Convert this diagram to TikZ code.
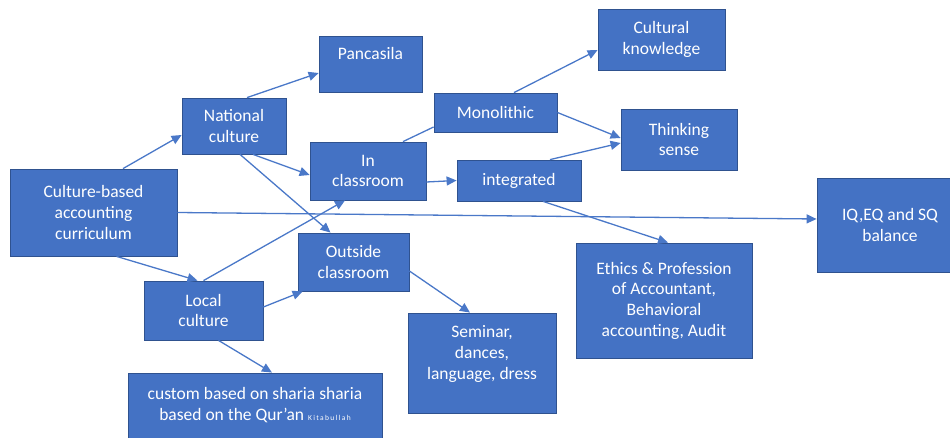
\documentclass[tikz,border=0pt]{standalone}
\usepackage{fontspec}
\setmainfont{Carlito}
\usetikzlibrary{arrows.meta}
\definecolor{boxblue}{HTML}{4472C4}
\definecolor{edgeblue}{HTML}{2F528F}
\definecolor{linkblue}{HTML}{4A78C8}

\begin{document}
\begin{tikzpicture}[x=1pt, y=-1pt,
  box/.style={draw=edgeblue, fill=boxblue, rectangle, text=white, align=center,
    inner sep=0pt, line width=0.8pt, font=\fontsize{17.5}{20.7}\selectfont},
  link/.style={draw=linkblue, line width=1.3pt, -{Triangle[length=10pt,width=9pt]}}]
  \useasboundingbox (0,0) rectangle (950,438);
  \clip (0,0) rectangle (950,438);

  \node[box, minimum width=167pt, minimum height=87pt] (cbac) at (93.5,212.5) {Culture-based\\accounting\\curriculum};
  \node[box, minimum width=104pt, minimum height=56pt] (natl) at (234,126) {National\\culture};
  \node[box, minimum width=103pt, minimum height=56pt] (panc) at (370.5,64) {Pancasila\\\mbox{}};
  \node[box, minimum width=116pt, minimum height=58pt] (incls) at (368,171) {In\\classroom};
  \node[box, minimum width=123pt, minimum height=39pt] (mono) at (495.5,112.5) {Monolithic};
  \node[box, minimum width=124pt, minimum height=41pt] (integ) at (519,180.5) {integrated};
  \node[box, minimum width=127pt, minimum height=61pt] (know) at (661.5,39.5) {Cultural\\knowledge};
  \node[box, minimum width=116pt, minimum height=61pt] (think) at (679,139.5) {Thinking\\sense};
  \node[box, minimum width=146pt, minimum height=94pt] (iq) at (890,225) {IQ,EQ and SQ\\balance};
  \node[box, minimum width=176pt, minimum height=115pt] (ethics) at (664,300.5) {Ethics \& Profession\\of Accountant,\\Behavioral\\accounting, Audit};
  \node[box, minimum width=111pt, minimum height=58pt] (outcls) at (353.5,262) {Outside\\classroom};
  \node[box, minimum width=148pt, minimum height=100pt] (seminar) at (482,363) {Seminar,\\dances,\\language, dress\\\mbox{}};
  \node[box, minimum width=119pt, minimum height=59pt] (local) at (203.5,310.5) {Local\\culture};
  \node[box, minimum width=254pt, minimum height=82pt] (custom) at (255,414)
    {custom based on sharia sharia\\based on the Qur’an {\fontsize{7.5}{9}\selectfont\addfontfeatures{LetterSpace=18}Kitabullah}\\\mbox{}};

  \draw[link] ([xshift=29.5pt]cbac.north) -- ([yshift=-9pt]natl.west);
  \draw[link] ([xshift=13pt]natl.north) -- ([yshift=-9pt]panc.west);
  \draw[link] ([xshift=19pt]natl.south) -- ([yshift=-4pt]incls.west);
  \draw[link] ([xshift=6pt]natl.south) -- ([xshift=-23pt]outcls.north);
  \draw[link] (cbac.east) -- ([yshift=6pt]iq.west);
  \draw[link] ([xshift=23pt]cbac.south) -- ([xshift=-6pt]local.north);
  \draw[link] (local.north) -- ([xshift=-23pt]incls.south);
  \draw[link] ([yshift=3.5pt]local.east) -- ([xshift=5pt]outcls.south west);
  \draw[link] ([xshift=15pt]local.south) -- ([xshift=17pt]custom.north);
  \draw[link] ([yshift=-9pt]outcls.east) -- ([xshift=-12pt]seminar.north);
  \draw[link, -] ([xshift=35pt]incls.north) -- ([yshift=-14.5pt]mono.west);
  \draw[link] ([yshift=-11pt]incls.east) -- (integ.west);
  \draw[link] ([xshift=18.5pt]mono.north) -- ([yshift=-10.5pt]know.west);
  \draw[link] (mono.east) -- ([yshift=1.5pt]think.west);
  \draw[link] ([xshift=31pt]integ.north) -- ([yshift=-3.5pt]think.west);
  \draw[link] ([xshift=24pt]integ.south) -- ([xshift=4pt]ethics.north);
\end{tikzpicture}
\end{document}
